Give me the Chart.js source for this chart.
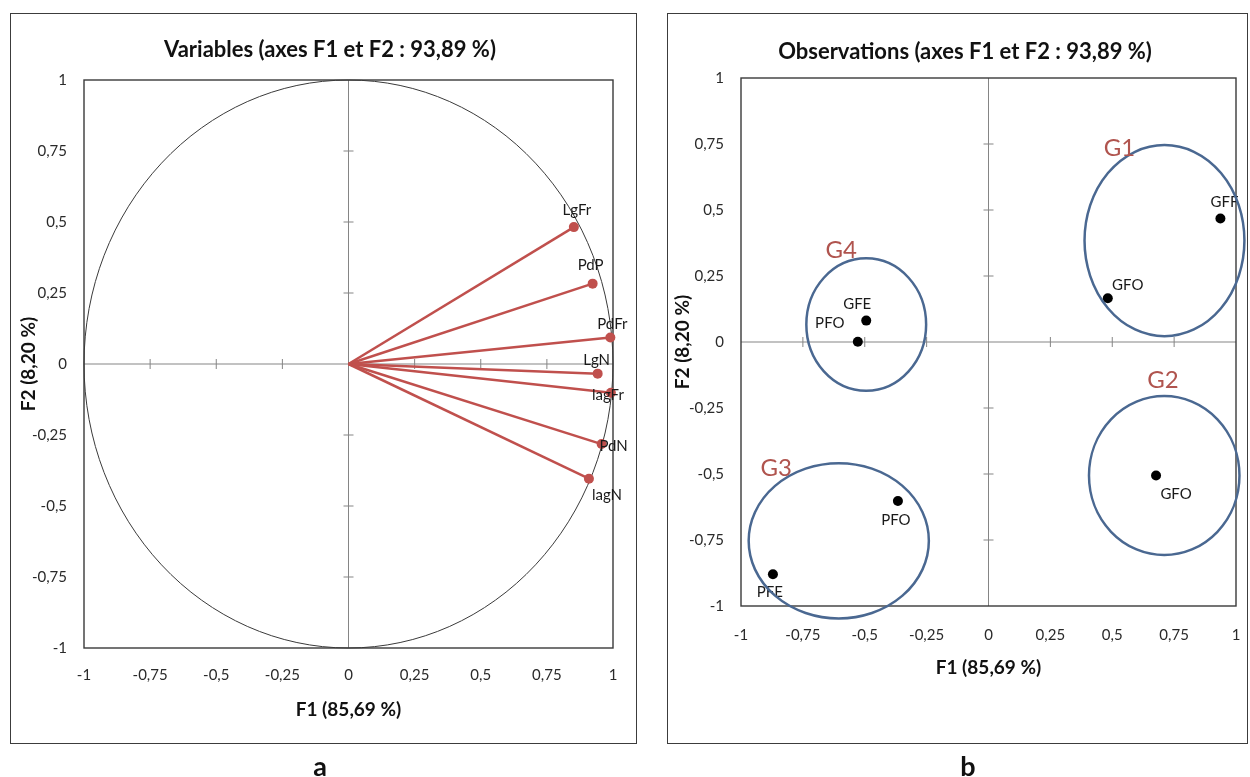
<!DOCTYPE html>
<html>
<head>
<meta charset="utf-8">
<script src="https://cdn.jsdelivr.net/npm/chart.js@4/dist/chart.umd.min.js"></script>
<style>
  html, body { margin:0; padding:0; background:#fff; width:1250px; height:777px; overflow:hidden; font-family: Lato, "Open Sans", sans-serif; }
  .box { position:absolute; border:1.5px solid #3c3c3c; box-sizing:border-box; }
  #boxA { left:10px; top:13px; width:627px; height:731px; }
  #boxB { left:667px; top:13px; width:581px; height:731px; }
  .cw { position:absolute; top:0; height:777px; }
  #wA { left:0; width:660px; }
  #wB { left:665px; width:600px; }
  .tag { position:absolute; top:750px; font: bold 27px Lato, sans-serif; line-height:32px; color:#111; width:40px; text-align:center; }
</style>
</head>
<body>
<div class="box" id="boxA"></div>
<div class="box" id="boxB"></div>
<div class="cw" id="wA"><canvas id="chartA"></canvas></div>
<div class="cw" id="wB"><canvas id="chartB"></canvas></div>
<div class="tag" style="left:300px">a</div>
<div class="tag" style="left:948px">b</div>
<script>
// ---------- data ----------
const tickValues = [-1, -0.75, -0.5, -0.25, 0, 0.25, 0.5, 0.75, 1];
const tickLabels = ['-1', '-0,75', '-0,5', '-0,25', '0', '0,25', '0,5', '0,75', '1'];

const titleA = 'Variables (axes F1 et F2 : 93,89 %)';
const titleB = 'Observations (axes F1 et F2 : 93,89 %)';
const xTitle = 'F1 (85,69 %)';
const yTitle = 'F2 (8,20 %)';

// variables (correlation circle)
const varNames = ['LgFr', 'PdP', 'PdFr', 'LgN', 'lagFr', 'PdN', 'lagN'];
const varF1    = [0.852, 0.923, 0.990, 0.942, 0.992, 0.957, 0.909];
const varF2    = [0.482, 0.283, 0.093, -0.034, -0.101, -0.282, -0.404];

// observations
const obsNames = ['GFE', 'PFO', 'GFF', 'GFO', 'GFO', 'PFO', 'PFE'];
const obsF1    = [-0.494, -0.528, 0.937, 0.482, 0.677, -0.366, -0.871];
const obsF2    = [0.081, 0.001, 0.468, 0.166, -0.506, -0.602, -0.880];

// groups (ellipses, in axis units)
const grpNames = ['G1', 'G2', 'G3', 'G4'];
const grpCx    = [0.711, 0.710, -0.605, -0.494];
const grpCy    = [0.384, -0.506, -0.753, 0.066];
const grpRx    = [0.323, 0.304, 0.364, 0.242];
const grpRy    = [0.362, 0.301, 0.294, 0.251];
const grpLabX  = [0.529, 0.705, -0.858, -0.595];
const grpLabY  = [0.735, -0.144, -0.480, 0.348];

// ---------- styles (label offsets in px) ----------
const varLabDx = [3, -2, 2, -1, -3, 12, 18];
const varLabDy = [-17, -18, -13, -13, 2, 2, 16];
const obsLabDx = [-9, -28, 4, 20, 20, -2, -3];
const obsLabDy = [-16, -19, -16, -13, 19, 19, 18];

const RED = 'rgb(192,80,77)';
const BLUE = 'rgb(74,104,145)';
const GRPTXT = 'rgb(176,84,78)';
const FONT = 'Lato';

function axisCfg(pos, titleText, titlePad, tickPad, fitSize) {
  return {
    type: 'linear', position: pos, min: -1, max: 1,
    afterBuildTicks: s => { s.ticks = tickValues.map(v => ({ value: v })); },
    ticks: {
      callback: (v, i) => tickLabels[i],
      color: '#2a2a2a', font: { family: FONT, size: 15 }, padding: tickPad,
      autoSkip: false, maxRotation: 0
    },
    grid: { display: false, drawTicks: false },
    border: { display: false },
    title: { display: true, text: titleText, color: '#111', font: { family: FONT, size: 19, weight: 'bold' }, padding: titlePad },
    afterFit: s => { if (pos === 'left') s.width = fitSize; else s.height = fitSize; }
  };
}

function decor(kind, titleText, titleY) {
  return {
    id: 'decor' + kind,
    beforeDatasetsDraw(chart) {
      const { ctx, chartArea: a, scales: { x, y } } = chart;
      const x0 = x.getPixelForValue(0), y0 = y.getPixelForValue(0);
      ctx.save();
      // panel title, centred on the panel
      ctx.fillStyle = '#111'; ctx.font = 'bold 22px ' + FONT;
      ctx.textAlign = 'center'; ctx.textBaseline = 'middle';
      ctx.fillText(titleText, chart.width / 2, titleY);
      // axes through origin
      ctx.strokeStyle = '#858585'; ctx.lineWidth = 1;
      ctx.beginPath();
      ctx.moveTo(x0, a.top); ctx.lineTo(x0, a.bottom);
      ctx.moveTo(a.left, y0); ctx.lineTo(a.right, y0);
      tickValues.forEach(v => {
        if (v === 0 || Math.abs(v) === 1) return;
        const py = y.getPixelForValue(v), px = x.getPixelForValue(v);
        ctx.moveTo(x0 - 5, py); ctx.lineTo(x0 + 5, py);
        ctx.moveTo(px, y0 - 5); ctx.lineTo(px, y0 + 5);
      });
      ctx.stroke();
      if (kind === 'A') {
        // unit correlation circle
        const rx = x.getPixelForValue(1) - x0, ry = y0 - y.getPixelForValue(1);
        ctx.strokeStyle = '#3a3a3a'; ctx.lineWidth = 1;
        ctx.beginPath(); ctx.ellipse(x0, y0, rx, ry, 0, 0, Math.PI * 2); ctx.stroke();
      }
      // frame
      ctx.strokeStyle = '#3a3a3a'; ctx.lineWidth = 1.4;
      ctx.strokeRect(a.left, a.top, a.right - a.left, a.bottom - a.top);
      ctx.restore();
    },
    afterDatasetsDraw(chart) {
      const { ctx, scales: { x, y } } = chart;
      ctx.save();
      ctx.textAlign = 'center'; ctx.textBaseline = 'middle';
      ctx.fillStyle = '#1a1a1a';
      ctx.font = '15px ' + FONT;
      if (kind === 'A') {
        varNames.forEach((n, i) => {
          ctx.fillText(n, x.getPixelForValue(varF1[i]) + varLabDx[i], y.getPixelForValue(varF2[i]) + varLabDy[i]);
        });
      } else {
        obsNames.forEach((n, i) => {
          ctx.fillText(n, x.getPixelForValue(obsF1[i]) + obsLabDx[i], y.getPixelForValue(obsF2[i]) + obsLabDy[i]);
        });
        ctx.strokeStyle = BLUE; ctx.lineWidth = 2.5;
        grpNames.forEach((g, i) => {
          const cx = x.getPixelForValue(grpCx[i]), cy = y.getPixelForValue(grpCy[i]);
          const rx = Math.abs(x.getPixelForValue(grpCx[i] + grpRx[i]) - cx);
          const ry = Math.abs(y.getPixelForValue(grpCy[i] + grpRy[i]) - cy);
          ctx.beginPath(); ctx.ellipse(cx, cy, rx, ry, 0, 0, Math.PI * 2); ctx.stroke();
        });
        ctx.fillStyle = GRPTXT; ctx.font = '24px ' + FONT;
        grpNames.forEach((g, i) => {
          ctx.fillText(g, x.getPixelForValue(grpLabX[i]), y.getPixelForValue(grpLabY[i]));
        });
      }
      ctx.restore();
    }
  };
}

Chart.defaults.font.family = FONT;

new Chart(document.getElementById('chartA'), {
  type: 'scatter',
  data: {
    datasets: varNames.map((n, i) => ({
      label: n,
      data: [{ x: 0, y: 0 }, { x: varF1[i], y: varF2[i] }],
      showLine: true, borderColor: RED, borderWidth: 2.5,
      pointRadius: [0, 5], pointBackgroundColor: RED, pointBorderWidth: 0,
      clip: false
    }))
  },
  options: {
    responsive: true, maintainAspectRatio: false, animation: false,
    layout: { padding: { left: 10, right: 47, top: 80, bottom: 49 } },
    plugins: { legend: { display: false }, tooltip: { enabled: false }, title: { display: false } },
    scales: {
      x: axisCfg('bottom', xTitle, { top: 0, bottom: 6.6 }, 18, 80),
      y: axisCfg('left', yTitle, { top: 7.6, bottom: 0 }, 17, 74)
    }
  },
  plugins: [decor('A', titleA, 50)]
});

new Chart(document.getElementById('chartB'), {
  type: 'scatter',
  data: {
    datasets: [{
      label: 'Observations',
      data: obsF1.map((v, i) => ({ x: v, y: obsF2[i] })),
      pointRadius: 5, pointBackgroundColor: '#000', pointBorderWidth: 0,
      clip: false
    }]
  },
  options: {
    responsive: true, maintainAspectRatio: false, animation: false,
    layout: { padding: { left: 2, right: 29, top: 78, bottom: 81 } },
    plugins: { legend: { display: false }, tooltip: { enabled: false }, title: { display: false } },
    scales: {
      x: axisCfg('bottom', xTitle, { top: 0, bottom: 16.6 }, 20, 90),
      y: axisCfg('left', yTitle, { top: 4.6, bottom: 0 }, 17, 74)
    }
  },
  plugins: [decor('B', titleB, 52)]
});
</script>
</body>
</html>
